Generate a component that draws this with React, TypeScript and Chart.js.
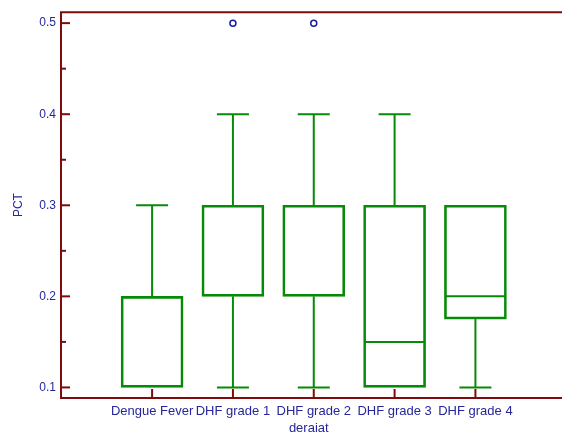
import React, { useEffect, useRef } from "react";
import { Chart, registerables } from "chart.js";

Chart.register(...registerables);

const categories = ["Dengue Fever", "DHF grade 1", "DHF grade 2", "DHF grade 3", "DHF grade 4"];
const whiskerLow = [0.1, 0.1, 0.1, 0.1, 0.1];
const quartile1 = [0.1, 0.2, 0.2, 0.1, 0.175];
const medians = [0.1, 0.2, 0.2, 0.15, 0.2];
const quartile3 = [0.2, 0.3, 0.3, 0.3, 0.3];
const whiskerHigh = [0.3, 0.4, 0.4, 0.4, 0.3];
const outlierCategory = [1, 2];
const outlierValues = [0.5, 0.5];
const yMajorTicks = [0.1, 0.2, 0.3, 0.4, 0.5];
const yMinorTicks = [0.15, 0.25, 0.35, 0.45];

const BOX_COLOR = "#078a07";
const AXIS_COLOR = "#7d0c0c";
const TEXT_COLOR = "#26269a";
const FONT = "'Liberation Sans', Arial, sans-serif";

const boxPlugin = {
  id: "boxExtras",
  afterDatasetsDraw(chart: any) {
    const { ctx, scales } = chart;
    const x = scales.x;
    const y = scales.y;
    const area = chart.chartArea;
    ctx.save();
    ctx.strokeStyle = BOX_COLOR;
    ctx.lineWidth = 2;
    const capHalf = 16;
    const boxHalf = 30;
    const line = (x1: number, y1: number, x2: number, y2: number) => {
      ctx.beginPath();
      ctx.moveTo(x1, y1);
      ctx.lineTo(x2, y2);
      ctx.stroke();
    };
    categories.forEach((_, i) => {
      const cx = x.getPixelForValue(i);
      const pLow = y.getPixelForValue(whiskerLow[i]);
      const pQ1 = y.getPixelForValue(quartile1[i]);
      const pMed = y.getPixelForValue(medians[i]);
      const pQ3 = y.getPixelForValue(quartile3[i]);
      const pHigh = y.getPixelForValue(whiskerHigh[i]);
      if (whiskerLow[i] < quartile1[i]) {
        line(cx, pLow, cx, pQ1);
        line(cx - capHalf, pLow, cx + capHalf, pLow);
      }
      if (whiskerHigh[i] > quartile3[i]) {
        line(cx, pQ3, cx, pHigh);
        line(cx - capHalf, pHigh, cx + capHalf, pHigh);
      }
      if (medians[i] > quartile1[i] && medians[i] < quartile3[i]) {
        line(cx - boxHalf, pMed, cx + boxHalf, pMed);
      }
    });
    // frame (left, top, bottom)
    ctx.strokeStyle = AXIS_COLOR;
    ctx.lineWidth = 2;
    ctx.beginPath();
    ctx.moveTo(chart.width, area.top);
    ctx.lineTo(area.left, area.top);
    ctx.lineTo(area.left, area.bottom);
    ctx.lineTo(chart.width, area.bottom);
    ctx.stroke();
    yMajorTicks.forEach((v) => {
      const py = y.getPixelForValue(v);
      line(area.left, py, area.left + 9, py);
    });
    yMinorTicks.forEach((v) => {
      const py = y.getPixelForValue(v);
      line(area.left, py, area.left + 5, py);
    });
    categories.forEach((_, i) => {
      const px = x.getPixelForValue(i);
      line(px, area.bottom, px, area.bottom - 9);
    });
    ctx.restore();
  },
};

export default function App() {
  const ref = useRef<HTMLCanvasElement | null>(null);
  useEffect(() => {
    if (!ref.current) return;
    const chart = new Chart(ref.current, {
      type: "bar",
      data: {
        datasets: [
          {
            type: "bar",
            label: "box",
            data: categories.map((_, i) => ({ x: i, y: [quartile1[i], quartile3[i]] })) as any,
            backgroundColor: "rgba(0,0,0,0)",
            borderColor: BOX_COLOR,
            borderWidth: 2,
            borderSkipped: false,
            barThickness: 62,
          } as any,
          {
            type: "scatter",
            label: "outliers",
            data: outlierCategory.map((c, i) => ({ x: c, y: outlierValues[i] })),
            pointStyle: "circle",
            pointRadius: 3,
            borderColor: "#1a1aa0",
            backgroundColor: "#ffffff",
            borderWidth: 1.5,
          } as any,
        ],
      },
      options: {
        animation: false,
        responsive: true,
        maintainAspectRatio: false,
        layout: { padding: { top: 10, left: 0, right: 0, bottom: 0 } },
        plugins: { legend: { display: false }, tooltip: { enabled: false } },
        scales: {
          x: {
            type: "linear",
            offset: false,
            min: -1.127,
            max: 5.003,
            grid: { display: false, drawTicks: false, offset: false },
            border: { display: false },
            afterBuildTicks: (scale: any) => {
              scale.ticks = categories.map((_, i) => ({ value: i }));
            },
            afterFit: (scale: any) => {
              scale.height = 37;
            },
            ticks: {
              autoSkip: false,
              maxRotation: 0,
              padding: 6,
              color: TEXT_COLOR,
              font: { family: FONT, size: 13 },
              callback: (v: any) => categories[Math.round(Number(v))] ?? "",
            },
            title: {
              display: true,
              text: "deraiat",
              color: TEXT_COLOR,
              font: { family: FONT, size: 13 },
              padding: { top: 0, bottom: -1 },
            },
          },
          y: {
            type: "linear",
            min: 0.0884,
            max: 0.512,
            grid: { display: false, drawTicks: false },
            border: { display: false },
            afterBuildTicks: (scale: any) => {
              scale.ticks = yMajorTicks.map((v) => ({ value: v }));
            },
            afterFit: (scale: any) => {
              scale.width = 61;
            },
            ticks: {
              padding: 5,
              color: TEXT_COLOR,
              font: { family: FONT, size: 12 },
              callback: (v: any) => Number(v).toFixed(1),
            },
            title: {
              display: true,
              text: "PCT",
              color: TEXT_COLOR,
              font: { family: FONT, size: 12 },
              padding: { top: 11, bottom: 0 },
            },
          },
        },
      },
      plugins: [boxPlugin],
    });
    return () => chart.destroy();
  }, []);
  return (
    <div style={{ position: "fixed", left: 0, top: 0, width: 562, height: 435 }}>
      <canvas ref={ref} />
    </div>
  );
}
